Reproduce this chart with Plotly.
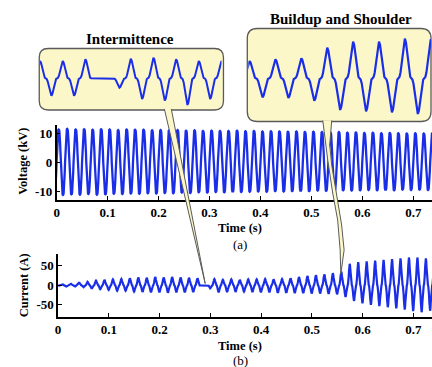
import plotly.graph_objects as go

W, H = 432, 367

# ---------------- data ----------------
HALF_PERIOD = 1.0 / 120.0          # 60 Hz
VOLT_FIRST_TROUGH_T = -0.0043
CUR_FIRST_PEAK_T = 0.008

# one half-cycle, zero -> extremum -> zero (12 samples)
VOLT_HALF_SHAPE = [0.0, 0.32, 0.60, 0.82, 0.94, 0.99, 1.0, 0.99, 0.94, 0.82, 0.60, 0.32]
CUR_HALF_SHAPE = [0.0, 0.036, 0.154, 0.381, 0.666, 0.906, 1.0, 0.906, 0.666, 0.381, 0.154, 0.036]

VOLT_PEAKS = [11.3, 11.5, 11.3, 11.4, 11.2, 11.4, 11.3, 11.1, 11.3, 11.2, 11.2, 11.0,
              11.1, 11.0, 11.1, 10.9, 11.0, 10.8, 10.9, 10.8, 10.8, 10.9, 10.7, 10.8,
              10.6, 10.7, 10.6, 10.5, 10.6, 10.4, 10.5, 10.4, 10.3, 10.4, 10.2, 10.3,
              10.1, 10.2, 10.0, 10.1, 10.0, 9.9, 10.0, 9.9, 10.0]
VOLT_TROUGHS = [-10.9, -11.1, -10.9, -11.0, -10.8, -11.0, -10.9, -10.7, -10.8, -10.6, -10.7, -10.5,
                -10.6, -10.4, -10.5, -10.3, -10.4, -10.2, -10.3, -10.1, -10.2, -10.0, -10.1, -10.0,
                -9.9, -10.0, -9.8, -9.9, -9.8, -9.7, -9.8, -9.6, -9.7, -9.6, -9.5, -9.6,
                -9.5, -9.4, -9.5, -9.4, -9.5, -9.3, -9.4, -9.3, -9.4]

CUR_PEAKS = [3, 4, 7, 9, 12, 14, 15, 16, 18, 20, 19, 21, 20, 21, 20, 19,
             18, 0, 16, 14, 15, 14, 15, 15, 16, 15, 16, 18, 21, 24, 26, 28,
             31, 35, 55, 59, 61, 63, 65, 67, 69, 71, 71, 69, 65]
CUR_TROUGHS = [-3, -3, -5, -8, -10, -12, -14, -14, -16, -17, -18, -18, -19, -18, -18, -17,
               0, -8, -18, -17, -17, -16, -17, -18, -18, -19, -19, -20, -20, -21, -21, -22,
               -23, -30, -40, -46, -50, -53, -56, -59, -62, -66, -69, -65, -58]

# inset waveforms: successive extrema (peak, trough, peak, ...)
INSET_INTERMITTENCE = [52, -52, 52, -52, 57, 0, 0, -28, 59, -62, 62, -67, 57, -80, 52, -62, 52]
INSET_BUILDUP = [52, -57, 57, -59, 60, -67, 92, -95, 110, -99, 110, -102, 119, -107, 117]

X_TICKS = [0, 0.1, 0.2, 0.3, 0.4, 0.5, 0.6, 0.7]
X_TICK_TEXT = ["0", "0.1", "0.2", "0.3", "0.4", "0.5", "0.6", "0.7"]
V_TICKS = [-10, 0, 10]
V_TICK_TEXT = ["-10", "0", "10"]
I_TICKS = [-50, 0, 50]
I_TICK_TEXT = ["-50", "0", "50"]


# ---------------- helpers ----------------
def build(extremes, t_first, half_period, shape):
    n = len(shape)
    xs, ys = [], []
    for j, e in enumerate(extremes):
        c = t_first + j * half_period
        for i, s in enumerate(shape):
            xs.append(c + (i - n // 2) * half_period / n)
            ys.append(e * s)
    return xs, ys


def interleave(a, b):
    out = []
    for p, q in zip(a, b):
        out += [p, q]
    return out


def px(x):
    return x / W


def py(y):
    return 1 - y / H


def P(x, y):
    return f"{px(x):.5f},{py(y):.5f}"


def rrect(x0, y0, x1, y1, r):
    return (f"M {P(x0 + r, y0)} L {P(x1 - r, y0)} Q {P(x1, y0)} {P(x1, y0 + r)} "
            f"L {P(x1, y1 - r)} Q {P(x1, y1)} {P(x1 - r, y1)} L {P(x0 + r, y1)} "
            f"Q {P(x0, y1)} {P(x0, y1 - r)} L {P(x0, y0 + r)} Q {P(x0, y0)} {P(x0 + r, y0)} Z")


def poly_open(pts):
    s = "M " + P(*pts[0])
    for p in pts[1:]:
        s += " L " + P(*p)
    return s


BLUE = "#1a2ee8"
SERIF = "Liberation Serif"
BOX_FILL = "#FBF7C9"
BOX_LINE = "#5a5a5a"

vx, vy = build(interleave(VOLT_TROUGHS, VOLT_PEAKS), VOLT_FIRST_TROUGH_T, HALF_PERIOD, VOLT_HALF_SHAPE)
cx, cy = build([-2] + interleave(CUR_PEAKS, CUR_TROUGHS), CUR_FIRST_PEAK_T - HALF_PERIOD, HALF_PERIOD, CUR_HALF_SHAPE)
i1x, i1y = build(INSET_INTERMITTENCE, 0.0, 1.0, CUR_HALF_SHAPE)
i2x, i2y = build(INSET_BUILDUP, 0.0, 1.0, CUR_HALF_SHAPE)

fig = go.Figure()
fig.add_trace(go.Scatter(x=vx, y=vy, mode="lines", line=dict(color=BLUE, width=2.3), xaxis="x", yaxis="y"))
fig.add_trace(go.Scatter(x=cx, y=cy, mode="lines", line=dict(color=BLUE, width=2.2), xaxis="x2", yaxis="y2"))
fig.add_trace(go.Scatter(x=i1x, y=i1y, mode="lines", line=dict(color=BLUE, width=2), xaxis="x3", yaxis="y3"))
fig.add_trace(go.Scatter(x=i2x, y=i2y, mode="lines", line=dict(color=BLUE, width=2.2), xaxis="x4", yaxis="y4"))

tickfont = dict(family=SERIF, size=13, color="black", weight="bold")
common_x = dict(showline=True, linecolor="black", linewidth=1.5, ticks="inside", ticklen=4, tickwidth=1.3,
                tickcolor="black", showgrid=False, zeroline=False, tickvals=X_TICKS, ticktext=X_TICK_TEXT,
                tickfont=tickfont, range=[0, 0.7368], fixedrange=True)
common_y = dict(showline=True, linecolor="black", linewidth=1.5, ticks="inside", ticklen=4, tickwidth=1.3,
                tickcolor="black", showgrid=False, zeroline=False, tickfont=tickfont, fixedrange=True)

hidden = dict(visible=False, fixedrange=True)

fig.update_layout(
    width=W, height=H, margin=dict(l=0, r=0, t=0, b=0),
    paper_bgcolor="white", plot_bgcolor="rgba(0,0,0,0)", showlegend=False,
    xaxis=dict(common_x, domain=[px(54), 1], anchor="y"),
    yaxis=dict(common_y, domain=[py(200), py(125)], range=[-12.84, 12.84], tickvals=V_TICKS,
               ticktext=V_TICK_TEXT, anchor="x"),
    xaxis2=dict(common_x, domain=[px(55.5), 1], anchor="y2"),
    yaxis2=dict(common_y, domain=[py(316.7), py(254)], range=[-80.3, 80], tickvals=I_TICKS,
                ticktext=I_TICK_TEXT, anchor="x2"),
    xaxis3=dict(hidden, domain=[px(37.3), px(220)], range=[0, 16], anchor="y3"),
    yaxis3=dict(hidden, domain=[py(108), py(50)], range=[-89, 85], anchor="x3"),
    xaxis4=dict(hidden, domain=[px(247), px(431)], range=[-0.1, 14.02], anchor="y4"),
    yaxis4=dict(hidden, domain=[py(120), py(30)], range=[-125, 145], anchor="x4"),
)

shapes = [
    dict(type="path", xref="paper", yref="paper", layer="below", path=rrect(36.5, 48.5, 222, 110, 9),
         fillcolor=BOX_FILL, line=dict(color=BOX_LINE, width=1.3)),
    dict(type="path", xref="paper", yref="paper", layer="below", path=rrect(246, 28.5, 431, 121.5, 10),
         fillcolor=BOX_FILL, line=dict(color=BOX_LINE, width=1.3)),
    dict(type="path", xref="paper", yref="paper", layer="above",
         path=poly_open([(162.5, 109), (203.6, 283.5), (169.5, 109)]),
         fillcolor=BOX_FILL, line=dict(color=BOX_LINE, width=1)),
    dict(type="path", xref="paper", yref="paper", layer="above",
         path=poly_open([(322, 120.5), (324.5, 140), (327, 160), (332, 193), (337, 220), (339.5, 250),
                         (340.2, 274), (343.5, 250), (341, 225), (336, 195), (331, 165), (329, 145),
                         (331, 120.5)]),
         fillcolor=BOX_FILL, line=dict(color=BOX_LINE, width=1)),
]
fig.update_layout(shapes=shapes)


def ann(text, x, y, size=13, bold=True, angle=0):
    return dict(text=text, x=px(x), y=py(y), xref="paper", yref="paper", showarrow=False,
                xanchor="center", yanchor="middle", textangle=angle,
                font=dict(family=SERIF, size=size, color="black", weight="bold" if bold else "normal"))


fig.update_layout(annotations=[
    ann("Intermittence", 128, 39.5, size=15),
    ann("Buildup and Shoulder", 340, 18.5, size=15),
    ann("Voltage (kV)", 19.5, 161.5, size=12.5, angle=-90),
    ann("Current (A)", 21.5, 285, size=12.5, angle=-90),
    ann("Time (s)", 239, 228, size=12.5),
    ann("(a)", 239, 244, size=13, bold=False),
    ann("Time (s)", 239, 346, size=12.5),
    ann("(b)", 239, 360, size=13, bold=False),
])

fig.write_html("out.html")
